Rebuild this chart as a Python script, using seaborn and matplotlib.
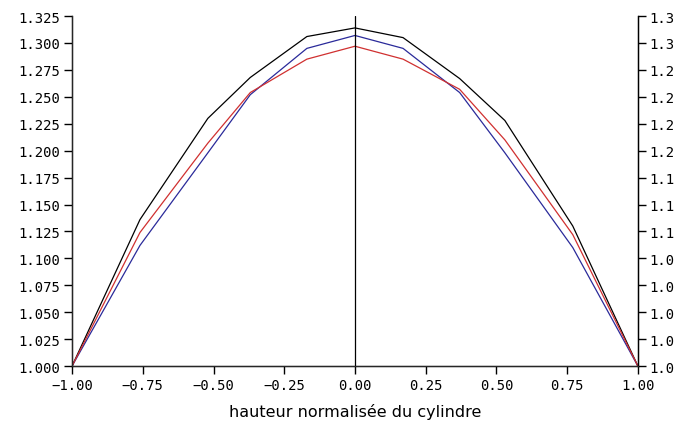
import matplotlib
matplotlib.use('Agg')
import matplotlib.pyplot as plt
import seaborn as sns
import pandas as pd

hauteur = [-1.0, -0.76, -0.52, -0.37, -0.17, 0.0, 0.17, 0.37, 0.53, 0.77, 1.0]
courbe_noire = [1.0, 1.136, 1.230, 1.268, 1.306, 1.314, 1.305, 1.267, 1.228, 1.130, 1.0]
courbe_bleue = [1.0, 1.112, 1.198, 1.252, 1.295, 1.307, 1.295, 1.254, 1.198, 1.110, 1.0]
courbe_rouge = [1.0, 1.124, 1.207, 1.254, 1.285, 1.297, 1.285, 1.257, 1.210, 1.122, 1.0]

xticks = [-1.0, -0.75, -0.5, -0.25, 0.0, 0.25, 0.5, 0.75, 1.0]
yticks = [1.0, 1.025, 1.05, 1.075, 1.1, 1.125, 1.15, 1.175, 1.2, 1.225, 1.25, 1.275, 1.3, 1.325]
ylabels_droite = ['1.0', '1.0', '1.0', '1.0', '1.0', '1.1', '1.1', '1.1', '1.2', '1.2',
                  '1.2', '1.2', '1.3', '1.3']

df = pd.DataFrame({
    'x': hauteur * 3,
    'y': courbe_noire + courbe_bleue + courbe_rouge,
    'serie': ['noire'] * len(hauteur) + ['bleue'] * len(hauteur) + ['rouge'] * len(hauteur),
})

sns.set_style('ticks')
mono = 'DejaVu Sans Mono'

fig = plt.figure(figsize=(6.8, 4.27), dpi=100)
ax = fig.add_axes([0.106, 0.1405, 0.832, 0.8195])

sns.lineplot(data=df, x='x', y='y', hue='serie', sort=False, estimator=None,
             palette={'noire': 'black', 'bleue': '#2a2a9a', 'rouge': '#d03030'},
             linewidth=0.9, legend=False, ax=ax)
ax.axvline(0, color='black', linewidth=0.9)

ax.set_xlim(-1.0, 1.0)
ax.set_ylim(1.0, 1.325)
ax.set_xticks(xticks)
ax.set_xticklabels([f'{t:.2f}'.replace('-', '\u2212') for t in xticks], family=mono, fontsize=10)
ax.set_yticks(yticks)
ax.set_yticklabels([f'{t:.3f}' for t in yticks], family=mono, fontsize=10)
ax.tick_params(length=6, width=1, color='black', labelcolor='black', pad=2.5)
ax.set_xlabel('hauteur normalisée du cylindre', fontsize=11.5, labelpad=8, color='black')
ax.set_ylabel('')
ax.spines['top'].set_visible(False)
for s in ['left', 'right', 'bottom']:
    ax.spines[s].set_color('black')
    ax.spines[s].set_linewidth(1)

ax2 = ax.twinx()
ax2.set_ylim(1.0, 1.325)
ax2.set_yticks(yticks)
ax2.set_yticklabels(ylabels_droite, family=mono, fontsize=10)
ax2.tick_params(length=6, width=1, color='black', labelcolor='black', pad=2.5)
ax2.spines['top'].set_visible(False)
ax2.spines['right'].set_color('black')

fig.savefig('out.png', dpi=100)
